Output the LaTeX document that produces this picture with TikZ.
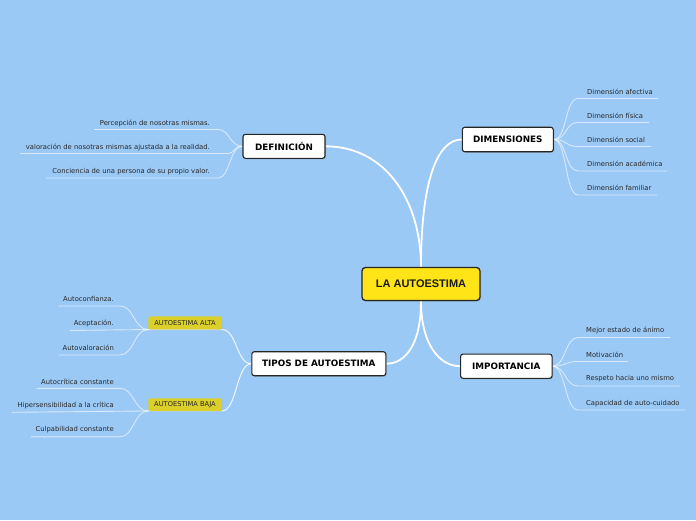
\documentclass[tikz,border=0pt]{standalone}
\usepackage{fontspec}
\setmainfont{DejaVu Sans}
\newfontfamily\centerfont{Liberation Sans}
\usetikzlibrary{shadows,backgrounds}
\definecolor{bgblue}{RGB}{155,201,245}
\definecolor{cyellow}{RGB}{255,228,24}
\definecolor{tagyellow}{RGB}{219,207,42}
\definecolor{txt}{RGB}{40,40,40}
\begin{document}
\begin{tikzpicture}[x=1pt,y=-1pt,
  topic/.style={draw=black!85, line width=1.1pt, fill=white, rounded corners=2.5pt,
    font=\fontsize{8.8}{10}\selectfont\bfseries, text=black, inner sep=0pt,
    drop shadow={shadow xshift=1pt,shadow yshift=-1pt,opacity=0.35}},
  central/.style={draw=black!85, line width=1.3pt, fill=cyellow, rounded corners=3.5pt,
    font=\centerfont\fontsize{11}{13}\selectfont\bfseries, text=black!90, inner sep=0pt,
    minimum width=118pt, minimum height=33pt,
    drop shadow={shadow xshift=1pt,shadow yshift=-1pt,opacity=0.35}},
  tag/.style={fill=tagyellow, rounded corners=1.5pt, inner sep=0pt,
    font=\fontsize{6.7}{8}\selectfont, text=black!85,
    minimum width=73.5pt,
    drop shadow={shadow xshift=0.6pt,shadow yshift=-0.8pt,opacity=0.25}},
  leaftxt/.style={font=\fontsize{6.8}{8}\selectfont, text=txt, inner sep=0pt},
  mainline/.style={draw=white, line width=1.8pt},
  leafline/.style={draw=white, draw opacity=0.6, line width=0.9pt},
  tagline/.style={draw=white, draw opacity=0.85, line width=1pt}
]
\useasboundingbox (0,0) rectangle (696,520);

% main nodes
\node[central] (c) at (421,284) {LA AUTOESTIMA};
\node[topic, minimum width=82pt, minimum height=24pt] (def) at (284,146.3) {DEFINICIÓN};
\node[topic, minimum width=91pt, minimum height=24.5pt] (dim) at (507.8,139.5) {DIMENSIONES};
\node[topic, minimum width=134pt, minimum height=24pt] (tip) at (318.8,363.7) {TIPOS DE AUTOESTIMA};
\node[topic, minimum width=91.5pt, minimum height=24.3pt] (imp) at (506.3,366.2) {IMPORTANCIA};
\node[tag, minimum height=13pt] (alta) at (185,322.8) {AUTOESTIMA ALTA};
\node[tag, minimum height=12.5pt] (baja) at (185,404.5) {AUTOESTIMA BAJA};

% DEFINICION leaves
\node[leaftxt, anchor=east] (d1) at (210,123.3) {Percepción de nosotras mismas.};
\node[leaftxt, anchor=east] (d2) at (210,147.3) {valoración de nosotras mismas ajustada a la realidad.};
\node[leaftxt, anchor=east] (d3) at (210,171.3) {Conciencia de una persona de su propio valor.};
\coordinate (d1a) at (94,129.5);  \coordinate (d1b) at (218,129.5);
\coordinate (d2a) at (20,153.5);  \coordinate (d2b) at (227,153.5);
\coordinate (d3a) at (46,178);    \coordinate (d3b) at (218,178);

% DIMENSIONES leaves
\node[leaftxt, anchor=west] (m1) at (587,92.3) {Dimensión afectiva};
\node[leaftxt, anchor=west] (m2) at (587,116.3) {Dimensión física};
\node[leaftxt, anchor=west] (m3) at (587,140.3) {Dimensión social};
\node[leaftxt, anchor=west] (m4) at (587,164.3) {Dimensión académica};
\node[leaftxt, anchor=west] (m5) at (587,188.3) {Dimensión familiar};
\coordinate (m1a) at (578,98.5);  \coordinate (m1b) at (658,98.5);
\coordinate (m2a) at (578,122.5); \coordinate (m2b) at (649,122.5);
\coordinate (m3a) at (578,146.5); \coordinate (m3b) at (651,146.5);
\coordinate (m4a) at (578,171);   \coordinate (m4b) at (667,171);
\coordinate (m5a) at (578,195);   \coordinate (m5b) at (657,195);

% IMPORTANCIA leaves
\node[leaftxt, anchor=west] (i1) at (586,330) {Mejor estado de ánimo};
\node[leaftxt, anchor=west] (i2) at (586,355) {Motivación};
\node[leaftxt, anchor=west] (i3) at (586,379) {Respeto hacia uno mismo};
\node[leaftxt, anchor=west] (i4) at (586,403.5) {Capacidad de auto-cuidado};
\coordinate (i1a) at (578,337.5); \coordinate (i1b) at (670,337.5);
\coordinate (i2a) at (578,361.5); \coordinate (i2b) at (628,361.5);
\coordinate (i3a) at (578,386);   \coordinate (i3b) at (680,386);
\coordinate (i4a) at (578,410);   \coordinate (i4b) at (685,410);

% ALTA leaves
\node[leaftxt, anchor=east] (a1) at (114,299) {Autoconfianza.};
\node[leaftxt, anchor=east] (a2) at (114,323.8) {Aceptación.};
\node[leaftxt, anchor=east] (a3) at (114,347.8) {Autovaloración};
\coordinate (a1a) at (58,306);   \coordinate (a1b) at (120,306);
\coordinate (a2a) at (70,330.5);
\coordinate (a3a) at (59,355);   \coordinate (a3b) at (120,355);

% BAJA leaves
\node[leaftxt, anchor=east] (b1) at (114,381.5) {Autocrítica constante};
\node[leaftxt, anchor=east] (b2) at (114,405.1) {Hipersensibilidad a la crítica};
\node[leaftxt, anchor=east] (b3) at (114,429.8) {Culpabilidad constante};
\coordinate (b1a) at (37,388.3);  \coordinate (b1b) at (120,388.3);
\coordinate (b2a) at (12,412.3);
\coordinate (b3a) at (31,436.8);  \coordinate (b3b) at (120,436.8);

\begin{pgfonlayer}{background}
\fill[bgblue] (0,0) rectangle (696,520);
% main connectors
\draw[mainline] (c.north) .. controls (421,200) and (385,146.3) .. (def.east);
\draw[mainline] (c.north) .. controls (421,185) and (436,139.5) .. (dim.west);
\draw[mainline] (c.south) .. controls (421,345) and (405,363.7) .. (tip.east);
\draw[mainline] (c.south) .. controls (421,345) and (440,366.2) .. (imp.west);
% tipos to tags
\draw[tagline] (tip.west) .. controls +(-15,0) and +(15,0) .. (alta.south east) -- (alta.south west);
\draw[tagline] (tip.west) .. controls +(-15,0) and +(15,0) .. (baja.south east) -- (baja.south west);
% definicion leaves
\draw[leafline] (def.west) .. controls +(-13,0) and +(12,0) .. (d1b) -- (d1a);
\draw[leafline] (def.west) .. controls +(-9,0) and +(8,0) .. (d2b) -- (d2a);
\draw[leafline] (def.west) .. controls +(-13,0) and +(12,0) .. (d3b) -- (d3a);
% dimensiones leaves
\draw[leafline] (dim.east) .. controls +(13,0) and +(-13,0) .. (m1a) -- (m1b);
\draw[leafline] (dim.east) .. controls +(13,0) and +(-13,0) .. (m2a) -- (m2b);
\draw[leafline] (dim.east) .. controls +(13,0) and +(-13,0) .. (m3a) -- (m3b);
\draw[leafline] (dim.east) .. controls +(13,0) and +(-13,0) .. (m4a) -- (m4b);
\draw[leafline] (dim.east) .. controls +(13,0) and +(-13,0) .. (m5a) -- (m5b);
% importancia leaves
\draw[leafline] (imp.east) .. controls +(13,0) and +(-13,0) .. (i1a) -- (i1b);
\draw[leafline] (imp.east) .. controls +(13,0) and +(-13,0) .. (i2a) -- (i2b);
\draw[leafline] (imp.east) .. controls +(13,0) and +(-13,0) .. (i3a) -- (i3b);
\draw[leafline] (imp.east) .. controls +(13,0) and +(-13,0) .. (i4a) -- (i4b);
% alta leaves
\draw[leafline] (alta.south west) .. controls +(-14,0) and +(14,0) .. (a1b) -- (a1a);
\draw[leafline] (alta.south west) -- (a2a);
\draw[leafline] (alta.south west) .. controls +(-14,0) and +(14,0) .. (a3b) -- (a3a);
% baja leaves
\draw[leafline] (baja.south west) .. controls +(-14,0) and +(14,0) .. (b1b) -- (b1a);
\draw[leafline] (baja.south west) -- (b2a);
\draw[leafline] (baja.south west) .. controls +(-14,0) and +(14,0) .. (b3b) -- (b3a);
\end{pgfonlayer}
\end{tikzpicture}
\end{document}
